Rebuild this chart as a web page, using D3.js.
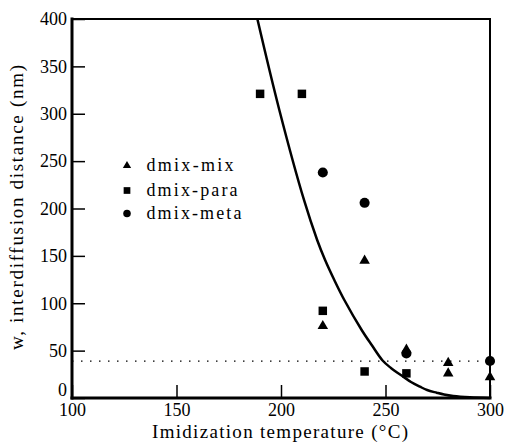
<!DOCTYPE html>
<html>
<head>
<meta charset="utf-8">
<script src="https://cdn.jsdelivr.net/npm/d3@7"></script>
<style>
  body { margin: 0; background: #fff; }
  svg { display: block; }
  text { font-family: "Liberation Serif", "Times New Roman", serif; fill: #000; }
</style>
</head>
<body>
<svg id="chart"></svg>
<script>
// datos
const xTicks = [100, 150, 200, 250, 300];
const yTicks = [0, 50, 100, 150, 200, 250, 300, 350, 400];

const mixT = [220, 240, 260, 280, 280, 300];
const mixW = [76, 145, 51, 37, 26, 22];

const paraT = [190, 210, 220, 240, 260];
const paraW = [321, 321, 92, 28, 26];

const metaT = [220, 240, 260, 300];
const metaW = [238, 206, 47, 39];

// curva del modelo
const curveT = [188.7, 199.2, 211.0, 217.3, 221.1, 225.5, 230.3, 238.6, 243.4, 248.6, 252.6, 258.5, 262.2, 266.5, 269.9, 274.5, 278.0, 282.4, 290.4, 300];
const curveW = [400, 304, 209, 166.8, 145.6, 124.5, 103.4, 71.8, 55.9, 39.6, 31.7, 22.5, 16.9, 11.9, 8.4, 5.6, 3.7, 2.1, 0.7, 0];

const limitW = 39;

const legendNames = ["dmix-mix", "dmix-para", "dmix-meta"];

const width = 508, height = 443;
const mLeft = 72, mRight = 490, mTop = 19, mBottom = 398;
const serif = '"Liberation Serif", "Times New Roman", serif';

const svg = d3.select("#chart")
    .attr("width", width)
    .attr("height", height);

const x = d3.scaleLinear().domain([100, 300]).range([mLeft, mRight]);
const y = d3.scaleLinear().domain([0, 400]).range([mBottom, mTop]);

// ejes
const yAxis = svg.append("g")
    .attr("transform", `translate(${mLeft},0)`)
    .call(d3.axisLeft(y).tickValues(yTicks).tickSizeInner(-13).tickSizeOuter(0).tickPadding(5));
yAxis.select(".domain").remove();
yAxis.selectAll("line").attr("stroke", "#000").attr("stroke-width", 1.5);
yAxis.selectAll("text")
    .style("font-size", "18px")
    .style("font-family", serif)
    .attr("dy", d => d === 0 ? "-0.15em" : "0.32em");

const xAxis = svg.append("g")
    .attr("transform", `translate(0,${mBottom})`)
    .call(d3.axisBottom(x).tickValues(xTicks).tickSizeInner(-13).tickSizeOuter(0).tickPadding(5));
xAxis.select(".domain").remove();
xAxis.selectAll("line").attr("stroke", "#000").attr("stroke-width", 1.5);
xAxis.selectAll("text")
    .style("font-size", "18px")
    .style("font-family", serif);

// marco
const frame = svg.append("g").attr("stroke", "#000").attr("stroke-linecap", "square");
frame.append("line").attr("x1", mLeft).attr("x2", mRight).attr("y1", mTop).attr("y2", mTop).attr("stroke-width", 2);
frame.append("line").attr("x1", mRight).attr("x2", mRight).attr("y1", mTop).attr("y2", mBottom).attr("stroke-width", 2);
frame.append("line").attr("x1", mLeft).attr("x2", mLeft).attr("y1", mTop).attr("y2", mBottom).attr("stroke-width", 3);
frame.append("line").attr("x1", mLeft).attr("x2", mRight).attr("y1", mBottom).attr("y2", mBottom).attr("stroke-width", 3);

// linea punteada
svg.append("line")
    .attr("x1", x(100)).attr("x2", x(300))
    .attr("y1", y(limitW)).attr("y2", y(limitW))
    .attr("stroke", "#000")
    .attr("stroke-width", 1.3)
    .attr("stroke-dasharray", "1.5,7.5");

// curva
const curvePts = curveT.map((t, i) => [t, curveW[i]]);
svg.append("path")
    .datum(curvePts)
    .attr("fill", "none")
    .attr("stroke", "#000")
    .attr("stroke-width", 2.5)
    .attr("d", d3.line().x(d => x(d[0])).y(d => y(d[1])).curve(d3.curveCatmullRom.alpha(0.5)));

// puntos
const triangle = d3.symbol().type(d3.symbolTriangle).size(48);
const square = d3.symbol().type(d3.symbolSquare).size(72);
const circle = d3.symbol().type(d3.symbolCircle).size(80);

function drawPoints(ts, ws, sym) {
    svg.append("g")
        .selectAll("path")
        .data(ts.map((t, i) => [t, ws[i]]))
        .enter().append("path")
        .attr("d", sym)
        .attr("fill", "#000")
        .attr("transform", d => `translate(${x(d[0])},${y(d[1])})`);
}
drawPoints(mixT, mixW, triangle);
drawPoints(paraT, paraW, square);
drawPoints(metaT, metaW, circle);

// leyenda
const legendSyms = [
    d3.symbol().type(d3.symbolTriangle).size(30),
    d3.symbol().type(d3.symbolSquare).size(45),
    d3.symbol().type(d3.symbolCircle).size(45)
];
const legendY = [165.7, 190.5, 213.5];
const legendLen = [87, 91, 95];
legendNames.forEach((name, i) => {
    svg.append("path")
        .attr("d", legendSyms[i])
        .attr("fill", "#000")
        .attr("transform", `translate(127,${legendY[i]})`);
    svg.append("text")
        .attr("x", 146.5)
        .attr("y", legendY[i] + 5.5)
        .attr("textLength", legendLen[i])
        .attr("lengthAdjust", "spacing")
        .style("font-size", "18px")
        .text(name);
});

// titulos
svg.append("text")
    .attr("x", 152)
    .attr("y", 438)
    .attr("textLength", 256)
    .attr("lengthAdjust", "spacing")
    .style("font-size", "19px")
    .text("Imidization temperature (°C)");

svg.append("text")
    .attr("transform", "translate(23,350) rotate(-90)")
    .attr("textLength", 285)
    .attr("lengthAdjust", "spacing")
    .style("font-size", "19px")
    .text("w, interdiffusion distance (nm)");
</script>
</body>
</html>
